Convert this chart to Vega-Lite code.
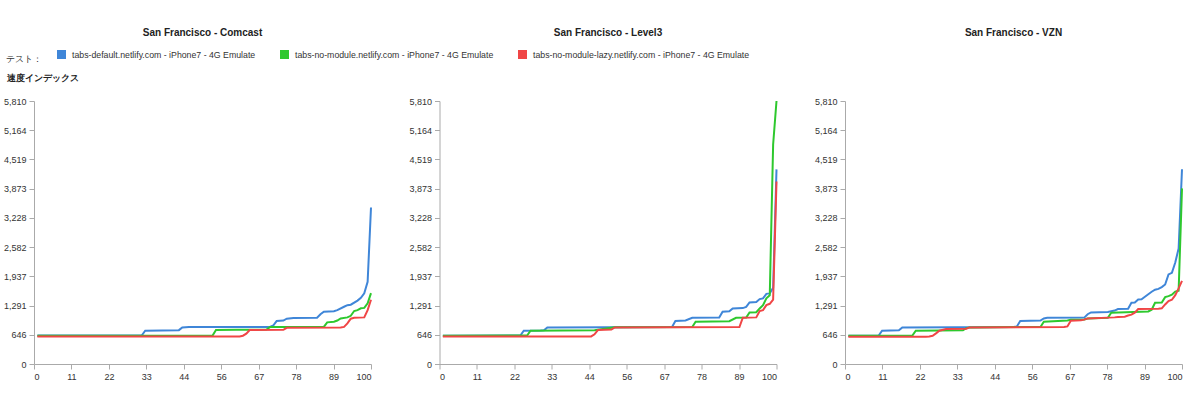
{
  "$schema": "https://vega.github.io/schema/vega-lite/v6.json",
  "padding": {"left": 3, "top": 28, "right": 10, "bottom": 8},
  "bounds": "flush",
  "config": {
    "font": "Liberation Sans",
    "view": {"stroke": null},
    "axis": {"domainColor": "#aaaaaa", "tickColor": "#aaaaaa", "tickSize": 5, "labelFontSize": 9, "labelColor": "#333333", "grid": false, "labelPadding": 3},
    "title": {"fontSize": 10, "fontWeight": "bold", "color": "#222222", "offset": 59, "frame": "group"},
    "concat": {"spacing": 68.5}
  },
  "datasets": {
    "names": [
      {"k": "d", "name": "tabs-default.netlify.com - iPhone7 - 4G Emulate"},
      {"k": "n", "name": "tabs-no-module.netlify.com - iPhone7 - 4G Emulate"},
      {"k": "l", "name": "tabs-no-module-lazy.netlify.com - iPhone7 - 4G Emulate"}
    ],
    "pts": [
      {"p":"Comcast","k":"d","x":1,"y":630},{"p":"Comcast","k":"d","x":32,"y":635},{"p":"Comcast","k":"d","x":33,"y":735},{"p":"Comcast","k":"d","x":38,"y":738},{"p":"Comcast","k":"d","x":43,"y":748},{"p":"Comcast","k":"d","x":44,"y":809},{"p":"Comcast","k":"d","x":46,"y":815},{"p":"Comcast","k":"d","x":70,"y":818},{"p":"Comcast","k":"d","x":71,"y":850},{"p":"Comcast","k":"d","x":72,"y":949},{"p":"Comcast","k":"d","x":74,"y":960},{"p":"Comcast","k":"d","x":75,"y":1000},{"p":"Comcast","k":"d","x":77,"y":1015},{"p":"Comcast","k":"d","x":84,"y":1022},{"p":"Comcast","k":"d","x":85,"y":1100},{"p":"Comcast","k":"d","x":86,"y":1155},{"p":"Comcast","k":"d","x":89,"y":1165},{"p":"Comcast","k":"d","x":90,"y":1190},{"p":"Comcast","k":"d","x":92,"y":1265},{"p":"Comcast","k":"d","x":93,"y":1300},{"p":"Comcast","k":"d","x":94,"y":1310},{"p":"Comcast","k":"d","x":96,"y":1400},{"p":"Comcast","k":"d","x":97,"y":1463},{"p":"Comcast","k":"d","x":98,"y":1560},{"p":"Comcast","k":"d","x":99,"y":1816},{"p":"Comcast","k":"d","x":100,"y":3456},
      {"p":"Comcast","k":"n","x":1,"y":625},{"p":"Comcast","k":"n","x":53,"y":628},{"p":"Comcast","k":"n","x":54,"y":750},{"p":"Comcast","k":"n","x":60,"y":755},{"p":"Comcast","k":"n","x":69,"y":760},{"p":"Comcast","k":"n","x":70,"y":815},{"p":"Comcast","k":"n","x":86,"y":820},{"p":"Comcast","k":"n","x":87,"y":920},{"p":"Comcast","k":"n","x":89,"y":935},{"p":"Comcast","k":"n","x":90,"y":960},{"p":"Comcast","k":"n","x":91,"y":1007},{"p":"Comcast","k":"n","x":93,"y":1030},{"p":"Comcast","k":"n","x":94,"y":1065},{"p":"Comcast","k":"n","x":95,"y":1170},{"p":"Comcast","k":"n","x":96,"y":1190},{"p":"Comcast","k":"n","x":97,"y":1230},{"p":"Comcast","k":"n","x":98,"y":1240},{"p":"Comcast","k":"n","x":99,"y":1340},{"p":"Comcast","k":"n","x":100,"y":1566},
      {"p":"Comcast","k":"l","x":1,"y":605},{"p":"Comcast","k":"l","x":61,"y":610},{"p":"Comcast","k":"l","x":62,"y":625},{"p":"Comcast","k":"l","x":63,"y":670},{"p":"Comcast","k":"l","x":64,"y":750},{"p":"Comcast","k":"l","x":74,"y":755},{"p":"Comcast","k":"l","x":75,"y":800},{"p":"Comcast","k":"l","x":91,"y":805},{"p":"Comcast","k":"l","x":92,"y":820},{"p":"Comcast","k":"l","x":93,"y":897},{"p":"Comcast","k":"l","x":94,"y":1000},{"p":"Comcast","k":"l","x":95,"y":1022},{"p":"Comcast","k":"l","x":98,"y":1030},{"p":"Comcast","k":"l","x":99,"y":1190},{"p":"Comcast","k":"l","x":100,"y":1420},
      {"p":"Level3","k":"d","x":1,"y":625},{"p":"Level3","k":"d","x":24,"y":630},{"p":"Level3","k":"d","x":25,"y":735},{"p":"Level3","k":"d","x":30,"y":738},{"p":"Level3","k":"d","x":31,"y":745},{"p":"Level3","k":"d","x":32,"y":809},{"p":"Level3","k":"d","x":69,"y":818},{"p":"Level3","k":"d","x":70,"y":949},{"p":"Level3","k":"d","x":73,"y":960},{"p":"Level3","k":"d","x":75,"y":1022},{"p":"Level3","k":"d","x":83,"y":1025},{"p":"Level3","k":"d","x":84,"y":1155},{"p":"Level3","k":"d","x":86,"y":1165},{"p":"Level3","k":"d","x":87,"y":1228},{"p":"Level3","k":"d","x":90,"y":1235},{"p":"Level3","k":"d","x":91,"y":1260},{"p":"Level3","k":"d","x":92,"y":1360},{"p":"Level3","k":"d","x":94,"y":1370},{"p":"Level3","k":"d","x":95,"y":1434},{"p":"Level3","k":"d","x":96,"y":1450},{"p":"Level3","k":"d","x":97,"y":1550},{"p":"Level3","k":"d","x":98,"y":1560},{"p":"Level3","k":"d","x":99,"y":1684},{"p":"Level3","k":"d","x":100,"y":4300},
      {"p":"Level3","k":"n","x":1,"y":625},{"p":"Level3","k":"n","x":26,"y":628},{"p":"Level3","k":"n","x":27,"y":735},{"p":"Level3","k":"n","x":46,"y":745},{"p":"Level3","k":"n","x":50,"y":790},{"p":"Level3","k":"n","x":52,"y":810},{"p":"Level3","k":"n","x":75,"y":818},{"p":"Level3","k":"n","x":76,"y":934},{"p":"Level3","k":"n","x":86,"y":945},{"p":"Level3","k":"n","x":88,"y":1022},{"p":"Level3","k":"n","x":91,"y":1025},{"p":"Level3","k":"n","x":92,"y":1140},{"p":"Level3","k":"n","x":94,"y":1145},{"p":"Level3","k":"n","x":95,"y":1228},{"p":"Level3","k":"n","x":96,"y":1300},{"p":"Level3","k":"n","x":97,"y":1450},{"p":"Level3","k":"n","x":98,"y":1520},{"p":"Level3","k":"n","x":99,"y":4850},{"p":"Level3","k":"n","x":100,"y":5810},
      {"p":"Level3","k":"l","x":1,"y":605},{"p":"Level3","k":"l","x":45,"y":610},{"p":"Level3","k":"l","x":46,"y":655},{"p":"Level3","k":"l","x":47,"y":750},{"p":"Level3","k":"l","x":51,"y":760},{"p":"Level3","k":"l","x":52,"y":809},{"p":"Level3","k":"l","x":89,"y":815},{"p":"Level3","k":"l","x":90,"y":1022},{"p":"Level3","k":"l","x":94,"y":1030},{"p":"Level3","k":"l","x":95,"y":1170},{"p":"Level3","k":"l","x":96,"y":1190},{"p":"Level3","k":"l","x":97,"y":1300},{"p":"Level3","k":"l","x":98,"y":1330},{"p":"Level3","k":"l","x":99,"y":1420},{"p":"Level3","k":"l","x":100,"y":4030},
      {"p":"VZN","k":"d","x":1,"y":625},{"p":"VZN","k":"d","x":10,"y":630},{"p":"VZN","k":"d","x":11,"y":735},{"p":"VZN","k":"d","x":16,"y":745},{"p":"VZN","k":"d","x":17,"y":809},{"p":"VZN","k":"d","x":50,"y":818},{"p":"VZN","k":"d","x":51,"y":830},{"p":"VZN","k":"d","x":52,"y":949},{"p":"VZN","k":"d","x":58,"y":960},{"p":"VZN","k":"d","x":59,"y":1007},{"p":"VZN","k":"d","x":60,"y":1020},{"p":"VZN","k":"d","x":71,"y":1025},{"p":"VZN","k":"d","x":72,"y":1100},{"p":"VZN","k":"d","x":73,"y":1140},{"p":"VZN","k":"d","x":78,"y":1150},{"p":"VZN","k":"d","x":80,"y":1180},{"p":"VZN","k":"d","x":81,"y":1213},{"p":"VZN","k":"d","x":84,"y":1220},{"p":"VZN","k":"d","x":85,"y":1353},{"p":"VZN","k":"d","x":86,"y":1360},{"p":"VZN","k":"d","x":87,"y":1427},{"p":"VZN","k":"d","x":88,"y":1430},{"p":"VZN","k":"d","x":89,"y":1485},{"p":"VZN","k":"d","x":90,"y":1540},{"p":"VZN","k":"d","x":91,"y":1596},{"p":"VZN","k":"d","x":92,"y":1640},{"p":"VZN","k":"d","x":93,"y":1660},{"p":"VZN","k":"d","x":94,"y":1700},{"p":"VZN","k":"d","x":95,"y":1757},{"p":"VZN","k":"d","x":96,"y":1978},{"p":"VZN","k":"d","x":97,"y":2015},{"p":"VZN","k":"d","x":98,"y":2243},{"p":"VZN","k":"d","x":99,"y":2552},{"p":"VZN","k":"d","x":100,"y":4302},
      {"p":"VZN","k":"n","x":1,"y":625},{"p":"VZN","k":"n","x":20,"y":628},{"p":"VZN","k":"n","x":21,"y":735},{"p":"VZN","k":"n","x":35,"y":745},{"p":"VZN","k":"n","x":36,"y":790},{"p":"VZN","k":"n","x":37,"y":809},{"p":"VZN","k":"n","x":58,"y":818},{"p":"VZN","k":"n","x":59,"y":934},{"p":"VZN","k":"n","x":66,"y":960},{"p":"VZN","k":"n","x":67,"y":975},{"p":"VZN","k":"n","x":71,"y":985},{"p":"VZN","k":"n","x":72,"y":1007},{"p":"VZN","k":"n","x":78,"y":1020},{"p":"VZN","k":"n","x":79,"y":1133},{"p":"VZN","k":"n","x":90,"y":1160},{"p":"VZN","k":"n","x":91,"y":1200},{"p":"VZN","k":"n","x":92,"y":1353},{"p":"VZN","k":"n","x":94,"y":1360},{"p":"VZN","k":"n","x":95,"y":1478},{"p":"VZN","k":"n","x":96,"y":1500},{"p":"VZN","k":"n","x":97,"y":1530},{"p":"VZN","k":"n","x":98,"y":1600},{"p":"VZN","k":"n","x":99,"y":1620},{"p":"VZN","k":"n","x":100,"y":3880},
      {"p":"VZN","k":"l","x":1,"y":600},{"p":"VZN","k":"l","x":24,"y":602},{"p":"VZN","k":"l","x":25,"y":610},{"p":"VZN","k":"l","x":26,"y":625},{"p":"VZN","k":"l","x":27,"y":677},{"p":"VZN","k":"l","x":28,"y":735},{"p":"VZN","k":"l","x":30,"y":772},{"p":"VZN","k":"l","x":36,"y":778},{"p":"VZN","k":"l","x":37,"y":809},{"p":"VZN","k":"l","x":65,"y":818},{"p":"VZN","k":"l","x":66,"y":830},{"p":"VZN","k":"l","x":67,"y":956},{"p":"VZN","k":"l","x":70,"y":965},{"p":"VZN","k":"l","x":71,"y":980},{"p":"VZN","k":"l","x":72,"y":1007},{"p":"VZN","k":"l","x":80,"y":1030},{"p":"VZN","k":"l","x":81,"y":1040},{"p":"VZN","k":"l","x":83,"y":1045},{"p":"VZN","k":"l","x":84,"y":1070},{"p":"VZN","k":"l","x":85,"y":1090},{"p":"VZN","k":"l","x":86,"y":1133},{"p":"VZN","k":"l","x":87,"y":1213},{"p":"VZN","k":"l","x":93,"y":1220},{"p":"VZN","k":"l","x":94,"y":1230},{"p":"VZN","k":"l","x":95,"y":1316},{"p":"VZN","k":"l","x":96,"y":1390},{"p":"VZN","k":"l","x":97,"y":1420},{"p":"VZN","k":"l","x":98,"y":1522},{"p":"VZN","k":"l","x":99,"y":1670},{"p":"VZN","k":"l","x":100,"y":1838}
    ]
  },
  "data": {"name": "pts"},
  "transform": [
    {"lookup": "k", "from": {"data": {"name": "names"}, "key": "k", "fields": ["name"]}}
  ],
  "resolve": {"scale": {"color": "shared"}, "legend": {"color": "shared"}},
  "hconcat": [
    {
      "title": {"text": "San Francisco - Comcast", "offset": 35},
      "width": 337, "height": 263,
      "transform": [{"filter": "datum.p === 'Comcast'"}],
      "mark": {"type": "line"},
      "encoding": {
        "x": {"field": "x", "type": "quantitative", "scale": {"domain": [0, 100], "nice": false, "zero": false},
              "axis": {"title": null, "values": [0, 11.111111, 22.222222, 33.333333, 44.444444, 55.555556, 66.666667, 77.777778, 88.888889, 100], "format": ".0f"}},
        "y": {"field": "y", "type": "quantitative", "scale": {"domain": [0, 5810], "nice": false},
              "axis": {"title": "速度インデックス", "titleAngle": 0, "titleAlign": "left", "titleBaseline": "middle", "titleX": -28, "titleY": -24, "titleFontSize": 9, "titleFontWeight": "bold", "titleColor": "#222222",
                       "values": [0, 645.5556, 1291.1111, 1936.6667, 2582.2222, 3227.7778, 3873.3333, 4518.8889, 5164.4444, 5810], "format": ",.0f"}},
        "color": {"field": "name", "type": "nominal",
                  "scale": {"domain": ["tabs-default.netlify.com - iPhone7 - 4G Emulate", "tabs-no-module.netlify.com - iPhone7 - 4G Emulate", "tabs-no-module-lazy.netlify.com - iPhone7 - 4G Emulate"], "range": ["#3f86d8", "#2ec82e", "#f04646"]},
                  "legend": {"orient": "none", "legendX": -28, "legendY": -51, "direction": "horizontal", "title": "テスト：", "titleOrient": "left", "titleFontSize": 9, "titleFontWeight": "normal", "titleColor": "#333333", "titlePadding": 15,
                             "symbolType": "square", "symbolSize": 9, "symbolStrokeWidth": 6, "labelFontSize": 8.75, "labelColor": "#333333", "labelLimit": 0, "columnPadding": 15, "labelOffset": 6}},
        "strokeWidth": {"value": 2},
        "order": {"field": "x", "type": "quantitative"}
      }
    },
    {
      "title": {"text": "San Francisco - Level3"},
      "width": 337, "height": 263,
      "transform": [{"filter": "datum.p === 'Level3'"}],
      "mark": {"type": "line"},
      "encoding": {
        "x": {"field": "x", "type": "quantitative", "scale": {"domain": [0, 100], "nice": false, "zero": false},
              "axis": {"title": null, "values": [0, 11.111111, 22.222222, 33.333333, 44.444444, 55.555556, 66.666667, 77.777778, 88.888889, 100], "format": ".0f"}},
        "y": {"field": "y", "type": "quantitative", "scale": {"domain": [0, 5810], "nice": false},
              "axis": {"title": null, "values": [0, 645.5556, 1291.1111, 1936.6667, 2582.2222, 3227.7778, 3873.3333, 4518.8889, 5164.4444, 5810], "format": ",.0f"}},
        "color": {"field": "name", "type": "nominal"},
        "strokeWidth": {"value": 2},
        "order": {"field": "x", "type": "quantitative"}
      }
    },
    {
      "title": {"text": "San Francisco - VZN"},
      "width": 337, "height": 263,
      "transform": [{"filter": "datum.p === 'VZN'"}],
      "mark": {"type": "line"},
      "encoding": {
        "x": {"field": "x", "type": "quantitative", "scale": {"domain": [0, 100], "nice": false, "zero": false},
              "axis": {"title": null, "values": [0, 11.111111, 22.222222, 33.333333, 44.444444, 55.555556, 66.666667, 77.777778, 88.888889, 100], "format": ".0f"}},
        "y": {"field": "y", "type": "quantitative", "scale": {"domain": [0, 5810], "nice": false},
              "axis": {"title": null, "values": [0, 645.5556, 1291.1111, 1936.6667, 2582.2222, 3227.7778, 3873.3333, 4518.8889, 5164.4444, 5810], "format": ",.0f"}},
        "color": {"field": "name", "type": "nominal"},
        "strokeWidth": {"value": 2},
        "order": {"field": "x", "type": "quantitative"}
      }
    }
  ]
}
